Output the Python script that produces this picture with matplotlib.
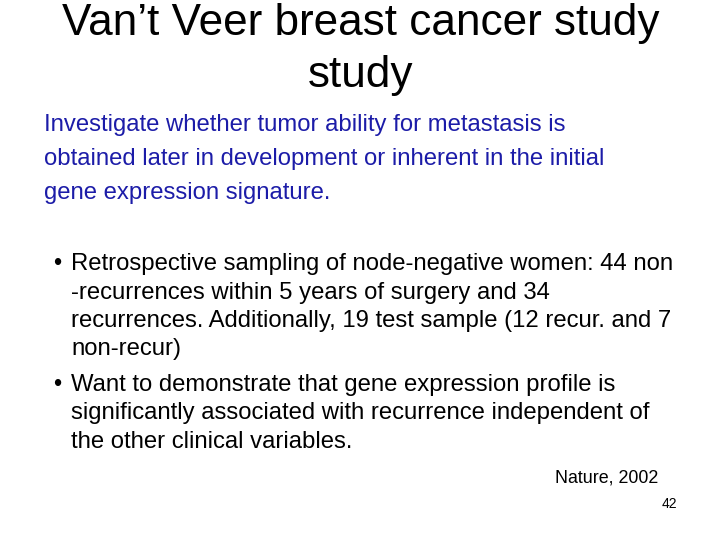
import matplotlib.pyplot as plt

plt.rcParams['font.family'] = ['Liberation Sans', 'DejaVu Sans']

title_lines = ["Van’t Veer breast cancer study", "study"]
intro_lines = [
    "Investigate whether tumor ability for metastasis is",
    "obtained later in development or inherent in the initial",
    "gene expression signature.",
]
bullets = [
    ["Retrospective sampling of node-negative women: 44 non",
     "-recurrences within 5 years of surgery and 34",
     "recurrences. Additionally, 19 test sample (12 recur. and 7",
     "non-recur)"],
    ["Want to demonstrate that gene expression profile is",
     "significantly associated with recurrence independent of",
     "the other clinical variables."],
]
source = "Nature, 2002"
page = "42"

W, H = 720, 540
fig = plt.figure(figsize=(7.2, 5.4), dpi=100)


def put(x, y, s, **kw):
    fig.text(x / W, 1 - y / H, s, va='center', **kw)


put(361, 23, title_lines[0], ha='center', fontsize=31.8)
put(361, 76, title_lines[1], ha='center', fontsize=31.8)

for i, line in enumerate(intro_lines):
    put(44, 125 + i * 34, line, fontsize=17.2, color='#1c1ca8')

y = 264
for lines in bullets:
    put(53, y, "•", fontsize=17)
    for line in lines:
        put(71, y, line, fontsize=17.2)
        y += 28.5
    y += 7

put(658, 478, source, ha='right', fontsize=12.9)
put(677, 504, page, ha='right', fontsize=10)

fig.savefig('out.png', dpi=100)
